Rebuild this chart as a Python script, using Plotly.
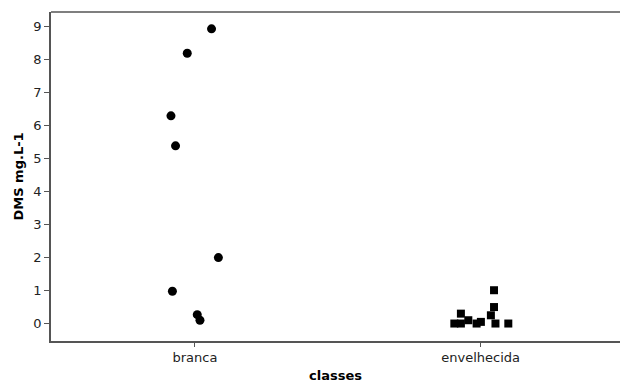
import plotly.graph_objects as go

categories = ["branca", "envelhecida"]

branca_values = [8.94, 8.20, 6.30, 5.39, 2.00, 0.98, 0.27, 0.10]
branca_jitter = [0.058, -0.027, -0.084, -0.068, 0.082, -0.079, 0.008, 0.0175]

envelhecida_values = [1.01, 0.50, 0.25, 0.30, 0.0, 0.0, 0.10, 0.0, 0.05, 0.0, 0.0]
envelhecida_jitter = [0.047, 0.047, 0.036, -0.069, -0.092, -0.069, -0.043, -0.014, 0.001, 0.052, 0.097]

y_ticks = list(range(0, 10))

fig = go.Figure()
fig.add_trace(go.Scatter(
    x=[0 + j for j in branca_jitter], y=branca_values, mode="markers",
    marker=dict(symbol="circle", size=9, color="black"), showlegend=False))
fig.add_trace(go.Scatter(
    x=[1 + j for j in envelhecida_jitter], y=envelhecida_values, mode="markers",
    marker=dict(symbol="square", size=8, color="black"), showlegend=False))

font = "DejaVu Sans"
fig.update_layout(
    width=620, height=382,
    margin=dict(l=51, r=0, t=12, b=41, autoexpand=False),
    plot_bgcolor="white", paper_bgcolor="white",
    font=dict(family=font, size=13, color="#222"),
    xaxis=dict(
        range=[-0.504, 1.488], tickvals=[0, 1], ticktext=categories, automargin=False,
        showgrid=False, zeroline=False, showline=True, linecolor="#555", linewidth=1.5,
        ticks="outside", ticklen=4, tickcolor="#555",
    ),
    yaxis=dict(
        range=[-0.53, 9.45], tickvals=y_ticks, automargin=False,
        showgrid=False, zeroline=False, showline=True, linecolor="#555", linewidth=1.5,
        ticks="outside", ticklen=5, tickcolor="#555",
    ),
)
fig.add_shape(type="line", xref="paper", yref="paper", x0=0, x1=1, y0=1, y1=1,
              line=dict(color="#555", width=1.5))
fig.add_annotation(text="<b>classes</b>", xref="paper", yref="paper", x=0.5, y=0,
                   yshift=-34, showarrow=False, yanchor="middle",
                   font=dict(size=13, color="black"))
fig.add_annotation(text="<b>DMS mg.L-1</b>", xref="paper", yref="paper", x=0, y=0.5,
                   xshift=-33, showarrow=False, xanchor="center", textangle=-90,
                   font=dict(size=13, color="black"))
fig.write_html(
    "out.html",
    config={"displayModeBar": False},
    post_script="document.body.style.margin='0';document.body.style.overflow='hidden';",
)
